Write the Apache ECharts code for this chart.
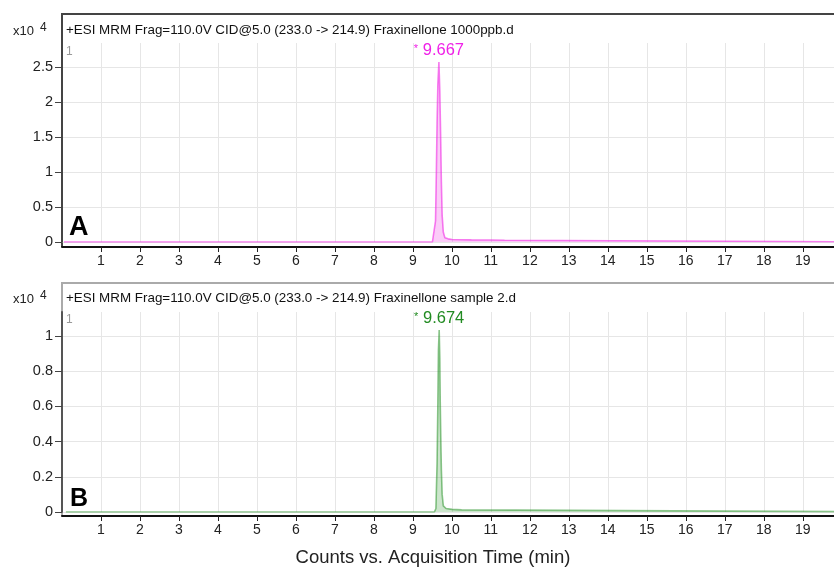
<!DOCTYPE html>
<html><head><meta charset="utf-8">
<script src="https://cdn.jsdelivr.net/npm/echarts@6/dist/echarts.min.js"></script>
<style>html,body{margin:0;padding:0;background:#fff}#c{width:834px;height:568px}</style>
</head><body><div id="c"></div>
<script>
// ---- data (counts in units of 10^4) ----
const timeA  = [0.05, 9.50, 9.55, 9.58, 9.60, 9.62, 9.64, 9.667, 9.69, 9.71, 9.73, 9.75, 9.78, 9.82, 9.90, 10.0, 10.5, 11.0, 11.35, 11.4, 19.8];
const countA = [0.0,  0.0,  0.02, 0.30, 0.95, 1.70, 2.25, 2.57,  2.15, 1.55, 0.85, 0.38, 0.14, 0.06, 0.045, 0.035, 0.03, 0.028, 0.025, 0.003, 0.003];
const timeB  = [0.1, 9.55, 9.59, 9.62, 9.64, 9.655, 9.674, 9.69, 9.70, 9.715, 9.73, 9.75, 9.78, 9.85, 10.0, 10.25, 10.3, 19.8];
const countB = [0.0, 0.0,  0.02, 0.28, 0.62, 0.92,  1.034, 0.87, 0.64, 0.42,  0.24, 0.10, 0.035, 0.02, 0.015, 0.012, 0.002, 0.002];
const xTickLabels = [1,2,3,4,5,6,7,8,9,10,11,12,13,14,15,16,17,18,19];
const yTicksA = [0, 0.5, 1, 1.5, 2, 2.5];
const yTicksB = [0, 0.2, 0.4, 0.6, 0.8, 1];
const peakA = {time: 9.667, count: 2.57, label: '9.667'};
const peakB = {time: 9.674, count: 1.034, label: '9.674'};
const titleA = '+ESI MRM Frag=110.0V CID@5.0 (233.0 -> 214.9) Fraxinellone 1000ppb.d';
const titleB = '+ESI MRM Frag=110.0V CID@5.0 (233.0 -> 214.9) Fraxinellone sample 2.d';
const xTitle = 'Counts vs. Acquisition Time (min)';

// ---- layout ----
const FONT = '"Liberation Sans", Arial, sans-serif';
const L = 62, W = 834;
const A = {frameTop: 14, gridTop: 43, base: 242, axisY: 247, pxPerUnit: 70};
const B = {frameTop: 283, gridTop: 312, base: 512, axisY: 516, pxPerUnit: 176};
const xMax = 19.8;

const zip = (t, v) => t.map((x, i) => [x, v[i]]);

function xAxis(idx, off) {
  return {
    type: 'value', gridIndex: idx, min: 0, max: xMax, interval: 1, offset: off,
    axisLine: {show: true, onZero: false, lineStyle: {color: '#111', width: 2}},
    axisTick: {show: true, length: 5, customValues: xTickLabels, lineStyle: {color: '#222'}},
    axisLabel: {margin: 7, fontSize: 14, color: '#222', fontFamily: FONT, customValues: xTickLabels,
      formatter: v => String(v)},
    splitLine: {show: true, lineStyle: {color: '#e6e6e6', width: 1}}
  };
}
function yAxis(idx, max, interval, ticks, lineColor) {
  return {
    type: 'value', gridIndex: idx, min: 0, max: max, interval: interval,
    axisLine: {show: true, lineStyle: {color: lineColor, width: 2}},
    axisTick: {show: true, length: 7, customValues: ticks, lineStyle: {color: '#444'}},
    axisLabel: {margin: 9, fontSize: 14.5, color: '#222', fontFamily: FONT, customValues: ticks,
      formatter: v => String(+(+v).toFixed(2))},
    splitLine: {show: true, lineStyle: {color: '#e6e6e6', width: 1}}
  };
}
function txt(text, x, y, font, fill, align) {
  return {type: 'text', silent: true, style: {text, x, y, font, fill,
    align: align || 'left', verticalAlign: 'middle', textAlign: align || 'left', textVerticalAlign: 'middle'}};
}
function peakSeries(idx, data, color, lineColor, fill, peak) {
  return {
    type: 'line', xAxisIndex: idx, yAxisIndex: idx, data, showSymbol: false, animation: false,
    lineStyle: {color: lineColor, width: 1.6}, areaStyle: {color: fill},
    markPoint: {symbol: 'circle', symbolSize: 1, itemStyle: {color: 'rgba(0,0,0,0)'}, animation: false,
      data: [{coord: [peak.time, peak.count]}],
      label: {show: true, position: 'top', distance: 3, color, fontSize: 16.5, fontFamily: FONT,
        formatter: '{s|*} ' + peak.label, rich: {s: {fontSize: 11, color, padding: [0,0,3,0]}}}}
  };
}

const chart = echarts.init(document.getElementById('c'), null, {renderer: 'canvas'});
chart.setOption({
  animation: false,
  backgroundColor: '#fff',
  grid: [
    {left: L, right: 0, top: A.gridTop, height: A.base - A.gridTop},
    {left: L, right: 0, top: B.gridTop, height: B.base - B.gridTop}
  ],
  xAxis: [xAxis(0, A.axisY - A.base), xAxis(1, B.axisY - B.base)],
  yAxis: [
    yAxis(0, (A.base - A.gridTop) / A.pxPerUnit, 0.5, yTicksA, '#444'),
    yAxis(1, (B.base - B.gridTop) / B.pxPerUnit, 0.2, yTicksB, '#555')
  ],
  series: [
    peakSeries(0, zip(timeA, countA), '#f020e8', 'rgba(240,40,228,0.6)', 'rgba(240,46,228,0.35)', peakA),
    peakSeries(1, zip(timeB, countB), '#228b22', 'rgba(43,150,43,0.55)', 'rgba(43,150,43,0.35)', peakB)
  ],
  graphic: [
    {type: 'polyline', silent: true, shape: {points: [[L, A.axisY], [L, A.frameTop], [W, A.frameTop]]}, style: {stroke: '#444', lineWidth: 2, fill: null}},
    {type: 'polyline', silent: true, shape: {points: [[L, B.axisY], [L, B.frameTop], [W, B.frameTop]]}, style: {stroke: '#aaa', lineWidth: 2, fill: null}},
    txt(titleA, 66, 30, '13.4px ' + FONT, '#111'),
    txt(titleB, 66, 298, '13.4px ' + FONT, '#111'),
    txt('x10', 13, 31, '13px ' + FONT, '#222'),
    txt('4', 40, 28, '12px ' + FONT, '#222'),
    txt('x10', 13, 299, '13px ' + FONT, '#222'),
    txt('4', 40, 296, '12px ' + FONT, '#222'),
    txt('1', 66, 52, '12px ' + FONT, '#999'),
    txt('1', 66, 320, '12px ' + FONT, '#999'),
    txt('A', 69, 228, 'bold 27px ' + FONT, '#000'),
    txt('B', 70, 499, 'bold 25px ' + FONT, '#000'),
    txt(xTitle, 433, 558, '18.5px ' + FONT, '#222', 'center')
  ]
});
</script></body></html>
